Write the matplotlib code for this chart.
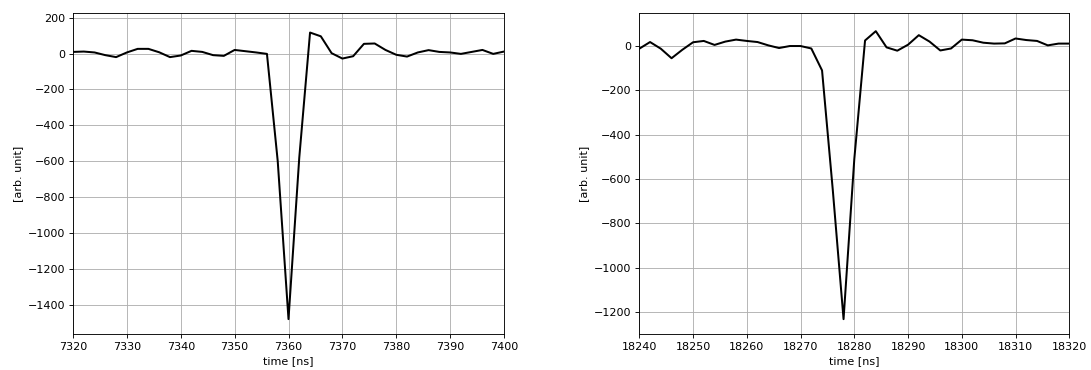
import numpy as np
import matplotlib
matplotlib.use("Agg")
import matplotlib.pyplot as plt

# Two waveform snapshots sampled every 2 ns
time_a = np.arange(7320, 7401, 2)
signal_a = [9, 11, 6, -9, -20, 6, 26, 26, 7, -20,
            -11, 15, 9, -9, -13, 20, 13, 6, -2, -600,
            -1481, -580, 117, 96, 2, -28, -15, 54, 56, 20,
            -7, -17, 6, 19, 9, 6, -2, 9, 20, -2, 11]

time_b = np.arange(18240, 18321, 2)
signal_b = [-12, 18, -12, -55, -17, 17, 23, 5, 20, 29,
            23, 18, 3, -9, 0, 0, -11, -110, -650, -1232,
            -510, 25, 67, -6, -21, 6, 49, 20, -20, -11,
            29, 26, 15, 11, 12, 34, 27, 23, 3, 11, 11]

xlim_a = (7320, 7400)
xlim_b = (18240, 18320)
ylim_a = (-1564, 226)
ylim_b = (-1299, 149)

W, H = 1091, 370
DPI = 80
fig = plt.figure(figsize=(W / DPI, H / DPI), dpi=DPI)
ax1 = fig.add_axes([73 / W, 36 / H, 431 / W, 321 / H])
ax2 = fig.add_axes([639.3 / W, 36 / H, 430 / W, 321 / H])

for ax, t, s, xl, yl in [(ax1, time_a, signal_a, xlim_a, ylim_a),
                         (ax2, time_b, signal_b, xlim_b, ylim_b)]:
    ax.plot(t, s, color="black", lw=1.8)
    ax.set_xlim(*xl)
    ax.set_ylim(*yl)
    ax.grid(True)
    ax.set_xlabel("time [ns]")
    ax.set_ylabel("[arb. unit]")

fig.savefig("out.png", dpi=DPI)
